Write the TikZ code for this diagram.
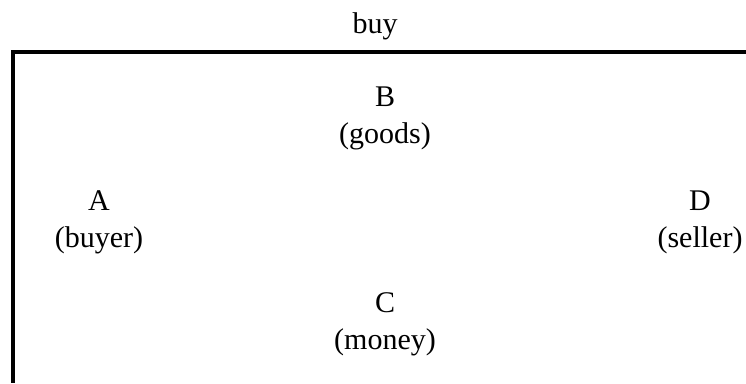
\documentclass[tikz,border=0pt]{standalone}
\usepackage{fontspec}
\setmainfont{Liberation Serif}
\begin{document}
\begin{tikzpicture}[x=1pt, y=-1pt,
        party/.style={align=center, inner sep=0pt, font=\fontsize{30}{37}\selectfont},
        frame/.style={line width=4pt, line cap=butt, line join=miter}
        ]
        \useasboundingbox (0,0) rectangle (746,383);
        \node[party, anchor=base] (title) at (375,33) {buy};
        \node[party] (goods) at (385,118) {B\\(goods)};
        \node[party] (buyer) at (99,222) {A\\(buyer)};
        \node[party] (seller) at (700,222) {D\\(seller)};
        \node[party] (money) at (385,324) {C\\(money)};
        
        \draw[frame] (746,52) -- (13,52) -- (13,383);
    \end{tikzpicture}
\end{document}
